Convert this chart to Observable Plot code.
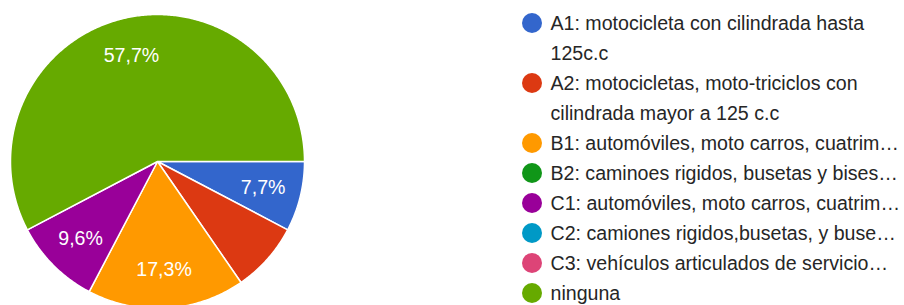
<!DOCTYPE html>
<html>
<head>
<meta charset="utf-8">
<script src="https://cdn.jsdelivr.net/npm/d3@7"></script>
<script src="https://cdn.jsdelivr.net/npm/@observablehq/plot@0.6"></script>
<style>
  html, body { margin: 0; padding: 0; background: #fff; }
  #wrap { position: relative; width: 904px; height: 305px; overflow: hidden; font-family: "Liberation Sans", Arial, sans-serif; }
  #chart { position: absolute; left: 0; top: 0; }
  #legend { position: absolute; left: 522px; top: 8px; width: 378px; font-size: 19.6px; color: #262626; }
  .item { display: flex; align-items: flex-start; }
  .sw { flex: none; width: 20px; height: 20px; border-radius: 50%; margin-top: 5px; margin-right: 8.5px; }
  .lines div { line-height: 30px; height: 30px; white-space: nowrap; }
</style>
</head>
<body>
<div id="wrap"><div id="chart"></div><div id="legend"></div></div>
<script>
// ---- data ----
const categories = ["A1", "A2", "B1", "B2", "C1", "C2", "C3", "ninguna"];
const counts = [4, 4, 9, 0, 5, 0, 0, 30];
const colors = ["#3366cc", "#dc3912", "#ff9900", "#109618", "#990099", "#0099c6", "#dd4477", "#66aa00"];
const showLabel = [true, false, true, false, true, false, false, true];
const legendLines = [
  ["A1: motocicleta con cilindrada hasta", "125c.c"],
  ["A2: motocicletas, moto-triciclos con", "cilindrada mayor a 125 c.c"],
  ["B1: automóviles, moto carros, cuatrim…"],
  ["B2: caminoes rigidos, busetas y bises…"],
  ["C1: automóviles, moto carros, cuatrim…"],
  ["C2: camiones rigidos,busetas, y buse…"],
  ["C3: vehículos articulados de servicio…"],
  ["ninguna"]
];

// ---- geometry from data ----
const total = d3.sum(counts);
const pie = d3.pie().sort(null).value(d => d.count)
  .startAngle(Math.PI / 2).endAngle(Math.PI / 2 + 2 * Math.PI);
const rows = categories.map((c, i) => ({category: c, count: counts[i], show: showLabel[i]}));
const arcs = pie(rows).filter(a => a.data.count > 0);

const slicePts = [];
for (const a of arcs) {
  const n = Math.max(2, Math.ceil((a.endAngle - a.startAngle) / 0.01));
  slicePts.push({category: a.data.category, x: 0, y: 0});
  for (let k = 0; k <= n; k++) {
    const t = a.startAngle + (a.endAngle - a.startAngle) * k / n;
    slicePts.push({category: a.data.category, x: Math.sin(t), y: -Math.cos(t)});
  }
  slicePts.push({category: a.data.category, x: 0, y: 0});
}
const fmt = v => (Math.round(v * 1000) / 10).toFixed(1).replace(".", ",") + "%";
const labelR = 0.74;
const labels = arcs.filter(a => a.data.show).map(a => {
  const m = (a.startAngle + a.endAngle) / 2;
  return {x: labelR * Math.sin(m), y: -labelR * Math.cos(m), text: fmt(a.data.count / total)};
});

const plot = Plot.plot({
  width: 500,
  height: 305,
  margin: 0,
  x: {domain: [-1, 1], range: [10, 304], axis: null},
  y: {domain: [-1, 1], range: [14, 308], axis: null},
  color: {domain: categories, range: colors},
  style: {fontFamily: "'Liberation Sans', Arial, sans-serif", background: "transparent", overflow: "visible"},
  marks: [
    Plot.line(slicePts, {x: "x", y: "y", z: "category", fill: "category", stroke: "#fff", strokeWidth: 1.5, strokeLinejoin: "round", curve: "linear"}),
    Plot.text(labels, {x: "x", y: "y", text: "text", fill: "#fff", fontSize: 19.6, textAnchor: "middle"})
  ]
});
document.getElementById("chart").appendChild(plot);

const leg = document.getElementById("legend");
categories.forEach((c, i) => {
  const item = document.createElement("div");
  item.className = "item";
  const sw = document.createElement("div");
  sw.className = "sw";
  sw.style.background = colors[i];
  const ln = document.createElement("div");
  ln.className = "lines";
  for (const t of legendLines[i]) {
    const d = document.createElement("div");
    d.textContent = t;
    ln.appendChild(d);
  }
  item.appendChild(sw);
  item.appendChild(ln);
  leg.appendChild(item);
});
</script>
</body>
</html>
